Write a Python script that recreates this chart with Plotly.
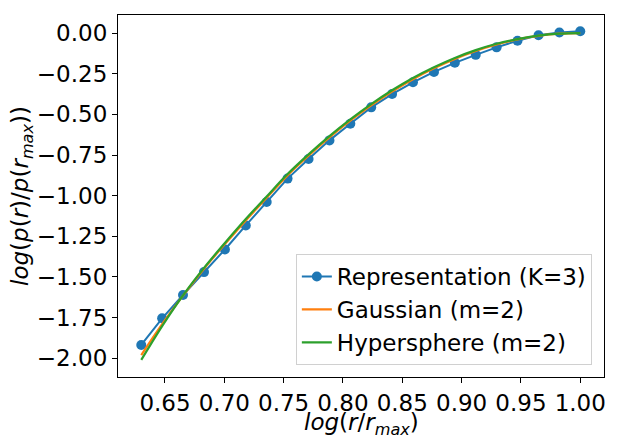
import plotly.graph_objects as go

# x values: log(r/r_max)
x_vals = [0.630, 0.6476, 0.6652, 0.6829, 0.7005, 0.7181, 0.7357, 0.7533, 0.7710, 0.7886, 0.8062,
          0.8238, 0.8414, 0.8590, 0.8767, 0.8943, 0.9119, 0.9295, 0.9471, 0.9648, 0.9824, 1.000]

representation = [-1.918, -1.754, -1.611, -1.470, -1.331, -1.183, -1.039, -0.895, -0.775, -0.660, -0.558,
                  -0.457, -0.375, -0.303, -0.239, -0.183, -0.134, -0.088, -0.047, -0.014, 0.003, 0.011]

gaussian = [-1.980, -1.790, -1.615, -1.449, -1.298, -1.152, -1.013, -0.875, -0.754, -0.642, -0.539,
            -0.445, -0.360, -0.284, -0.217, -0.159, -0.110, -0.070, -0.039, -0.017, -0.004, 0.000]

hypersphere = [-2.010, -1.802, -1.613, -1.444, -1.291, -1.144, -1.005, -0.867, -0.746, -0.634, -0.531,
               -0.437, -0.352, -0.276, -0.210, -0.153, -0.105, -0.066, -0.037, -0.016, -0.004, 0.000]

x_ticks = [0.65, 0.70, 0.75, 0.80, 0.85, 0.90, 0.95, 1.00]
x_tick_labels = ["0.65", "0.70", "0.75", "0.80", "0.85", "0.90", "0.95", "1.00"]
y_ticks = [0.0, -0.25, -0.5, -0.75, -1.0, -1.25, -1.5, -1.75, -2.0]
y_tick_labels = ["0.00", "\u22120.25", "\u22120.50", "\u22120.75", "\u22121.00",
                 "\u22121.25", "\u22121.50", "\u22121.75", "\u22122.00"]

FONT = "DejaVu Sans"
FS = 23

fig = go.Figure()
fig.add_trace(go.Scatter(x=x_vals, y=representation, mode="lines+markers",
                         name="Representation (K=3)",
                         line=dict(color="#1f77b4", width=2),
                         marker=dict(color="#1f77b4", size=10)))
fig.add_trace(go.Scatter(x=x_vals, y=gaussian, mode="lines", name="Gaussian (m=2)",
                         line=dict(color="#ff7f0e", width=2.2, shape="spline")))
fig.add_trace(go.Scatter(x=x_vals, y=hypersphere, mode="lines", name="Hypersphere (m=2)",
                         line=dict(color="#2ca02c", width=2.2, shape="spline")))

axis_common = dict(showgrid=False, zeroline=False, showline=True, linecolor="black",
                   linewidth=1.2, mirror=True, ticks="outside", ticklen=5, tickwidth=1.2,
                   tickcolor="black", automargin=False,
                   tickfont=dict(family=FONT, size=FS, color="black"))

# the page body adds an 8px offset, so margins compensate for it
fig.update_layout(
    width=619, height=447,
    margin=dict(l=110, r=23, t=7, b=78),
    paper_bgcolor="white", plot_bgcolor="white",
    font=dict(family=FONT, size=FS, color="black"),
    showlegend=True,
    legend=dict(x=0.975, y=0.033, xanchor="right", yanchor="bottom",
                bgcolor="rgba(255,255,255,0.8)", bordercolor="#d0d0d0", borderwidth=1,
                font=dict(family=FONT, size=FS, color="black"),
                tracegroupgap=0),
    xaxis=dict(range=[0.6104, 1.02], tickvals=x_ticks, ticktext=x_tick_labels,
               **axis_common),
    yaxis=dict(range=[-2.115, 0.111], tickvals=y_ticks, ticktext=y_tick_labels,
               **axis_common),
    annotations=[
        dict(text="<i>log</i>(<i>r</i>/<i>r</i><sub><i>max</i></sub>)",
             xref="paper", yref="paper", x=0.5, y=0, xanchor="center", yanchor="middle",
             yshift=-47, showarrow=False, font=dict(family=FONT, size=FS, color="black")),
        dict(text="<i>log</i>(<i>p</i>(<i>r</i>)/<i>p</i>(<i>r</i><sub><i>max</i></sub>))",
             xref="paper", yref="paper", x=0, y=0.5, xanchor="center", yanchor="middle",
             xshift=-96, textangle=-90, showarrow=False,
             font=dict(family=FONT, size=FS, color="black")),
    ],
)

fig.write_html("out.html")
